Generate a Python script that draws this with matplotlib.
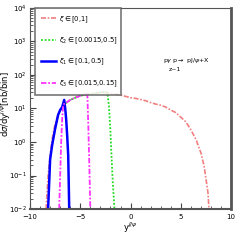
import numpy as np
import matplotlib.pyplot as plt
from matplotlib.ticker import LogLocator, MultipleLocator, NullFormatter

# xi in [0,1]
x_all = [-8.4, -8.2, -8.0, -7.8, -7.5, -7.2, -7.0, -6.6, -6.0, -5.5, -5.0, -4.5, -4.0, -3.5,
         -3.0, -2.5, -2.0, -1.5, -1.0, -0.5, 0.0, 0.5, 1.0, 1.5, 2.0, 2.5, 3.0, 3.5, 4.0,
         4.5, 5.0, 5.5, 6.0, 6.5, 7.0, 7.3, 7.5, 7.7, 7.8]
y_all = [0.01, 0.1, 0.4, 1.2, 3.5, 6.5, 9.0, 13.0, 18.0, 21.0, 24.0, 26.0, 27.0, 28.5,
         30.0, 30.0, 28.0, 27.0, 25.0, 23.0, 21.0, 20.0, 18.5, 17.0, 15.0, 13.5, 12.5, 11.0, 9.0,
         7.5, 5.5, 4.0, 2.3, 1.2, 0.47, 0.2, 0.08, 0.03, 0.01]

# xi2 in [0.0015,0.5]
x_g = [-6.5, -6.0, -5.5, -5.0, -4.5, -4.0, -3.5, -3.0, -2.5, -2.3, -2.15, -2.0, -1.9, -1.75, -1.6]
y_g = [14.0, 18.0, 21.0, 24.0, 26.0, 27.0, 28.5, 30.0, 32.0, 29.0, 12.0, 2.0, 0.4, 0.05, 0.01]

# xi1 in [0.1,0.5]
x_b = [-8.2, -8.0, -7.8, -7.5, -7.2, -7.0, -6.8, -6.6, -6.5, -6.4, -6.3, -6.2, -6.1]
y_b = [0.01, 0.3, 0.8, 2.5, 6.5, 9.0, 11.0, 18.0, 10.0, 4.6, 1.5, 0.4, 0.01]

# xi3 in [0.015,0.15]
x_m = [-7.1, -7.0, -6.9, -6.8, -6.7, -6.0, -5.5, -5.0, -4.5, -4.3, -4.2, -4.1, -4.0]
y_m = [0.01, 0.1, 1.0, 5.0, 13.0, 18.0, 21.0, 24.0, 26.0, 27.0, 3.0, 0.2, 0.01]

labels = [r'$\xi\in$[0,1]', r'$\xi_2\in$[0.0015,0.5]', r'$\xi_1\in$[0.1,0.5]', r'$\xi_3\in$[0.015,0.15]']

fig = plt.figure(figsize=(2.4, 2.4), dpi=100)
ax = fig.add_axes([0.125, 0.129, 0.838, 0.838])

ax.plot(x_all, y_all, color='#f28080', lw=1.2, ls=(0, (3, 1, 1, 1)), label=labels[0])
ax.plot(x_g, y_g, color='#22dd22', lw=1.3, ls=(0, (1, 1)), label=labels[1])
ax.plot(x_b, y_b, color='#0000ff', lw=1.8, label=labels[2])
ax.plot(x_m, y_m, color='#ff33ff', lw=1.3, ls=(0, (3, 1, 1, 1)), label=labels[3])

ax.set_yscale('log')
ax.set_xlim(-10, 10)
ax.set_ylim(0.01, 1e4)
ax.xaxis.set_major_locator(MultipleLocator(5))
ax.xaxis.set_minor_locator(MultipleLocator(1))
ax.yaxis.set_major_locator(LogLocator(base=10, numticks=10))
ax.yaxis.set_minor_locator(LogLocator(base=10, subs=np.arange(2, 10), numticks=20))
ax.yaxis.set_minor_formatter(NullFormatter())
ax.tick_params(which='both', direction='in', top=False, right=False, labelsize=5, color='#444444')
ax.tick_params(axis='y', pad=2.5)
ax.tick_params(axis='x', pad=3.5)
ax.tick_params(which='major', length=4)
ax.tick_params(which='minor', length=2)
for s in ax.spines.values():
    s.set_color('#555555')
    s.set_linewidth(0.8)
ax.spines['right'].set_linewidth(2)
ax.spines['bottom'].set_linewidth(1.5)

ax.set_xlabel(r'y$^{J/\psi}$', fontsize=6, labelpad=0.5)
ax.set_ylabel(r'd$\sigma$/dy$^{J/\psi}$[nb/bin]', fontsize=6)
ax.yaxis.set_label_coords(-0.085, 0.52)

ax.text(0.66, 0.73, r'p$\gamma$ p$\rightarrow$ pJ/$\psi$+X', transform=ax.transAxes, fontsize=4.5)
ax.text(0.69, 0.685, 'z~1', transform=ax.transAxes, fontsize=4.5)

leg = ax.legend(loc='upper left', bbox_to_anchor=(0.025, 0.6, 0.425, 0.4), mode='expand',
                fontsize=4.9, frameon=True, fancybox=False, borderaxespad=0, handlelength=2.2,
                handletextpad=0.35, labelspacing=1.6, borderpad=0.9)
leg.get_frame().set_edgecolor('#555555')
leg.get_frame().set_linewidth(1.2)

fig.savefig('out.png', dpi=100)
